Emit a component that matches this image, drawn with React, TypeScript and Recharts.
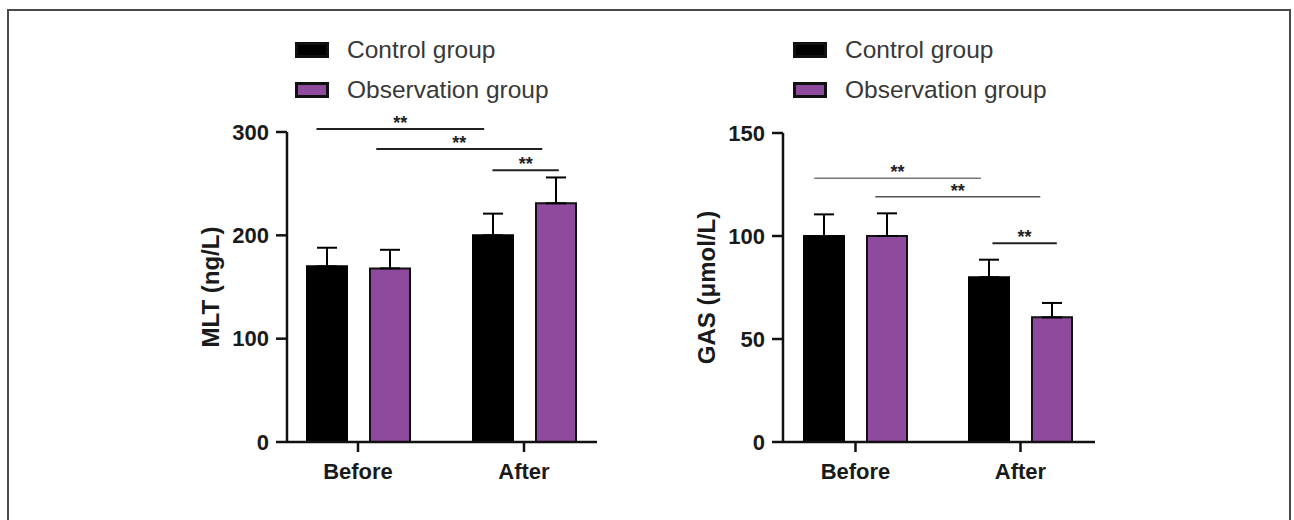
import { BarChart, Bar, XAxis, YAxis, ErrorBar, ReferenceLine, Legend } from 'recharts'

const FONT = 'Arial, "Liberation Sans", sans-serif'
const PURPLE = '#8e4a9d'

const categories = ['Before', 'After']
const seriesNames = ['Control group', 'Observation group']

// MLT panel
const mltControl = [170, 200]
const mltControlErr = [18, 21]
const mltObservation = [168, 231]
const mltObservationErr = [18, 25]
const mltTicks = [0, 100, 200, 300]

// GAS panel
const gasControl = [100, 80]
const gasControlErr = [10.5, 8.5]
const gasObservation = [100, 60.5]
const gasObservationErr = [11, 7]
const gasTicks = [0, 50, 100, 150]

// significance brackets: from / to as a share of the x axis (0..1), height in data units
const mltSigFrom = [0.125, 0.305, 0.655]
const mltSigTo = [0.63, 0.805, 0.855]
const mltSigAt = [303, 283.5, 263]
const gasSigFrom = [0.125, 0.31, 0.665]
const gasSigTo = [0.63, 0.81, 0.86]
const gasSigAt = [128, 119, 96.5]

function buildRows(ctrl: number[], ctrlErr: number[], obs: number[], obsErr: number[]) {
  return categories.map((group, i) => ({
    group,
    control: ctrl[i],
    controlErr: [0, ctrlErr[i]],
    observation: obs[i],
    observationErr: [0, obsErr[i]],
  }))
}

function LegendBox() {
  return (
    <div style={{ fontFamily: FONT, fontSize: 24.5, color: '#383838' }}>
      {seriesNames.map((name, i) => (
        <div key={name} style={{ display: 'flex', alignItems: 'center', height: 40 }}>
          <span
            style={{
              display: 'inline-block',
              width: 34,
              height: 16,
              boxSizing: 'border-box',
              background: i === 0 ? '#000' : PURPLE,
              border: '3px solid #111',
              marginRight: 18,
            }}
          />
          <span>{name}</span>
        </div>
      ))}
    </div>
  )
}

function yTitle(text: string) {
  return (props: any) => {
    const vb = props.viewBox || { x: 0, y: 0, width: 0, height: 0 }
    const cx = vb.x + 13
    const cy = vb.y + vb.height / 2
    return (
      <text
        x={cx}
        y={cy}
        transform={`rotate(-90 ${cx} ${cy})`}
        textAnchor="middle"
        dominantBaseline="central"
        fill="#1a1a1a"
        fontSize={24}
        fontWeight={700}
        fontFamily={FONT}
      >
        {text}
      </text>
    )
  }
}

interface PanelProps {
  rows: any[]
  ticks: number[]
  yLabel: string
  sigFrom: number[]
  sigTo: number[]
  sigAt: number[]
  sigStroke: string[]
  sigWidth: number[]
  left: number
  width: number
  margin: { top: number; right: number; bottom: number; left: number }
  pad: { left: number; right: number }
  legendLeft: number
}

function Panel(p: PanelProps) {
  const axisStyle = { stroke: '#111', strokeWidth: 2.5 }
  const tickStyle = { fill: '#1a1a1a', fontSize: 22, fontWeight: 700, fontFamily: FONT }
  return (
    <div style={{ position: 'absolute', left: p.left, top: 0 }}>
      <BarChart width={p.width} height={520} data={p.rows} margin={p.margin} barGap={23}>
        <XAxis
          dataKey="group"
          height={50}
          padding={p.pad}
          tickSize={10}
          tickMargin={11}
          axisLine={axisStyle}
          tickLine={axisStyle}
          tick={tickStyle}
        />
        <XAxis xAxisId="num" type="number" domain={[0, 1]} allowDataOverflow padding={p.pad} hide />
        <YAxis
          domain={[0, p.ticks[p.ticks.length - 1]]}
          ticks={p.ticks}
          width={90}
          tickSize={11}
          tickMargin={7}
          axisLine={axisStyle}
          tickLine={axisStyle}
          tick={tickStyle}
          label={{ content: yTitle(p.yLabel) }}
        />
        <Legend
          layout="vertical"
          align="center"
          verticalAlign="middle"
          content={<LegendBox />}
          wrapperStyle={{ left: p.legendLeft, top: 30, width: 300 }}
        />
        <Bar dataKey="control" name={seriesNames[0]} fill="#000" stroke="#000" strokeWidth={2} barSize={40} isAnimationActive={false}>
          <ErrorBar dataKey="controlErr" direction="y" width={10} stroke="#000" strokeWidth={2} isAnimationActive={false} />
        </Bar>
        <Bar dataKey="observation" name={seriesNames[1]} fill={PURPLE} stroke="#111" strokeWidth={2} barSize={40} isAnimationActive={false}>
          <ErrorBar dataKey="observationErr" direction="y" width={10} stroke="#000" strokeWidth={2} isAnimationActive={false} />
        </Bar>
        {p.sigAt.map((y, i) => (
          <ReferenceLine
            key={i}
            xAxisId="num"
            ifOverflow="visible"
            segment={[
              { x: p.sigFrom[i], y },
              { x: p.sigTo[i], y },
            ]}
            stroke={p.sigStroke[i]}
            strokeWidth={p.sigWidth[i]}
            label={{ value: '**', position: 'top', offset: 0, fill: '#222', fontSize: 18, fontWeight: 700, fontFamily: FONT }}
          />
        ))}
      </BarChart>
    </div>
  )
}

export default function App() {
  const mltRows = buildRows(mltControl, mltControlErr, mltObservation, mltObservationErr)
  const gasRows = buildRows(gasControl, gasControlErr, gasObservation, gasObservationErr)
  return (
    <div style={{ position: 'fixed', left: 0, top: 0, width: 1294, height: 520, background: '#fff', overflow: 'hidden' }}>
      <div
        style={{
          position: 'absolute',
          left: 7,
          top: 9,
          width: 1284,
          height: 600,
          border: '2px solid #4a4a4a',
          boxSizing: 'border-box',
        }}
      />
      <Panel
        rows={mltRows}
        ticks={mltTicks}
        yLabel="MLT (ng/L)"
        sigFrom={mltSigFrom}
        sigTo={mltSigTo}
        sigAt={mltSigAt}
        sigStroke={['#222', '#222', '#222']}
        sigWidth={[2, 2, 2]}
        left={0}
        width={640}
        margin={{ top: 132, right: 43, bottom: 28, left: 197 }}
        pad={{ left: -12, right: -10 }}
        legendLeft={295}
      />
      <Panel
        rows={gasRows}
        ticks={gasTicks}
        yLabel="GAS (μmol/L)"
        sigFrom={gasSigFrom}
        sigTo={gasSigTo}
        sigAt={gasSigAt}
        sigStroke={['#777', '#555', '#222']}
        sigWidth={[1.5, 1.5, 2]}
        left={640}
        width={654}
        margin={{ top: 133, right: 199, bottom: 28, left: 53 }}
        pad={{ left: -10, right: -8 }}
        legendLeft={153}
      />
    </div>
  )
}
